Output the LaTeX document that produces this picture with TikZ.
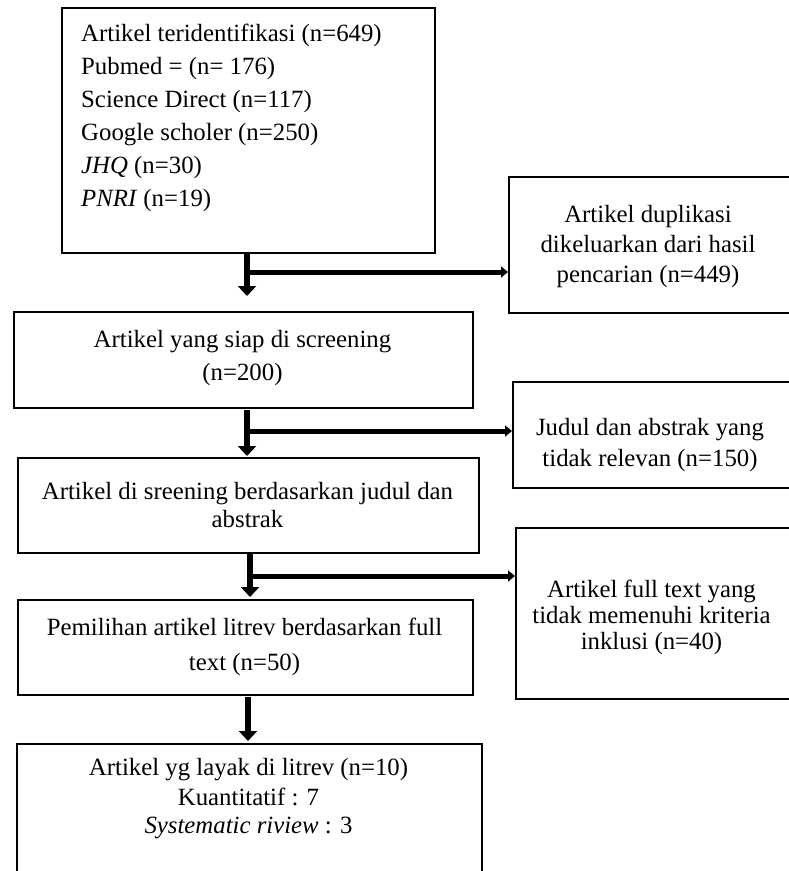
\documentclass[tikz,border=0pt]{standalone}
\usepackage{fontspec}
\setmainfont{Liberation Serif}
\usetikzlibrary{arrows.meta}
\begin{document}
\begin{tikzpicture}[x=1pt,y=-1pt,
  box/.style={draw, line width=1.5pt, rectangle, inner sep=0pt, anchor=north west},
  txt/.style={anchor=base, inner sep=0pt, font=\fontsize{24.8}{30}\selectfont},
  ltxt/.style={anchor=base west, inner sep=0pt, font=\fontsize{24.8}{30}\selectfont},
  flow/.style={line width=6pt, -{Triangle[width=18pt,length=10pt]}},
  side/.style={line width=5pt, -{Triangle[width=11pt,length=7pt]}}]
\useasboundingbox (0,0) rectangle (789,871);

% boxes
\node[box, minimum width=373pt, minimum height=245pt] (b1) at (61,7) {};
\node[box, minimum width=281pt, minimum height=136pt] (dup) at (508,176) {};
\node[box, minimum width=459pt, minimum height=96pt] (b2) at (13,311) {};
\node[box, minimum width=277pt, minimum height=106pt] (jud) at (512,381) {};
\node[box, minimum width=461pt, minimum height=95pt] (b3) at (17,457) {};
\node[box, minimum width=274pt, minimum height=171pt] (ink) at (515,527) {};
\node[box, minimum width=455pt, minimum height=95pt] (b4) at (17,599) {};
\node[box, minimum width=465pt, minimum height=160pt] (b5) at (16,743) {};

% texts
\node[ltxt] (t1a) at (81,41) {Artikel teridentifikasi (n=649)};
\node[ltxt] (t1b) at (81,74) {Pubmed = (n= 176)};
\node[ltxt] (t1c) at (81,107) {Science Direct (n=117)};
\node[ltxt] (t1d) at (81,140) {Google scholer (n=250)};
\node[ltxt] (t1e) at (81,173) {\textit{JHQ} (n=30)};
\node[ltxt] (t1f) at (81,206) {\textit{PNRI} (n=19)};

\node[txt] (tda) at (648,222) {Artikel duplikasi};
\node[txt] (tdb) at (648,252) {dikeluarkan dari hasil};
\node[txt] (tdc) at (648,282) {pencarian (n=449)};

\node[txt] (t2a) at (242.5,347) {Artikel yang siap di screening};
\node[txt] (t2b) at (242.5,380) {(n=200)};

\node[txt] (tja) at (650,435) {Judul dan abstrak yang};
\node[txt] (tjb) at (650,466) {tidak relevan (n=150)};

\node[txt] (t3a) at (247.5,499) {Artikel di sreening berdasarkan judul dan};
\node[txt] (t3b) at (247.5,527) {abstrak};

\node[txt] (tka) at (651.5,597) {Artikel full text yang};
\node[txt] (tkb) at (651.5,623) {tidak memenuhi kriteria};
\node[txt] (tkc) at (651.5,649) {inklusi (n=40)};

\node[txt] (t4a) at (244.5,635) {Pemilihan artikel litrev berdasarkan full};
\node[txt] (t4b) at (244.5,670) {text (n=50)};

\node[txt] (t5a) at (248.5,775) {Artikel yg layak di litrev (n=10)};
\node[txt] (t5b) at (248.5,805) {Kuantitatif : 7};
\node[txt] (t5c) at (248.5,833) {\textit{Systematic riview} : 3};

% connectors
\coordinate (s1) at (247,252);
\coordinate (e1) at (247,296);
\coordinate (j1) at (247,272);
\draw[flow] (s1) -- (e1);
\draw[side] (j1) -- (j1 -| dup.west);

\coordinate (s2) at (247,410);
\coordinate (e2) at (247,456);
\coordinate (j2) at (247,431);
\draw[flow] (s2) -- (e2);
\draw[side] (j2) -- (j2 -| jud.west);

\coordinate (s3) at (250,553);
\coordinate (e3) at (250,597);
\coordinate (j3) at (250,576);
\draw[flow] (s3) -- (e3);
\draw[side] (j3) -- (j3 -| ink.west);

\coordinate (s4) at (248,697);
\coordinate (e4) at (248,741);
\draw[flow] (s4) -- (e4);
\end{tikzpicture}
\end{document}
